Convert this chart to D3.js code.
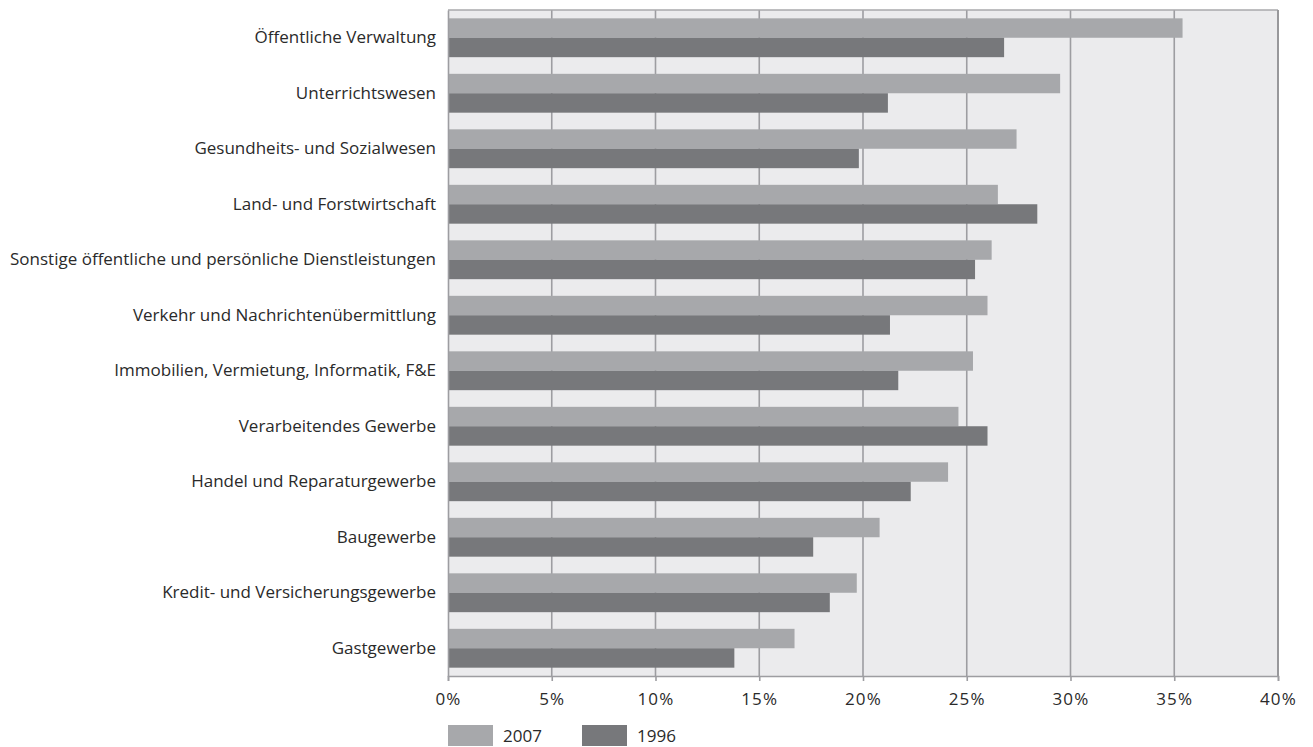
<!DOCTYPE html>
<html>
<head>
<meta charset="utf-8">
<script src="https://cdn.jsdelivr.net/npm/d3@7"></script>
<style>
  html, body { margin: 0; padding: 0; background: #fff; }
  svg { display: block; }
  text { font-family: "Open Sans", Lato, sans-serif; fill: #2a2a2a; }
</style>
</head>
<body>
<svg id="chart" width="1313" height="747"></svg>
<script>
// Branchen (top to bottom)
const categories = [
  "Öffentliche Verwaltung",
  "Unterrichtswesen",
  "Gesundheits- und Sozialwesen",
  "Land- und Forstwirtschaft",
  "Sonstige öffentliche und persönliche Dienstleistungen",
  "Verkehr und Nachrichtenübermittlung",
  "Immobilien, Vermietung, Informatik, F&E",
  "Verarbeitendes Gewerbe",
  "Handel und Reparaturgewerbe",
  "Baugewerbe",
  "Kredit- und Versicherungsgewerbe",
  "Gastgewerbe"
];
// Anteile in Prozent
const values2007 = [35.4, 29.5, 27.4, 26.5, 26.2, 26.0, 25.3, 24.6, 24.1, 20.8, 19.7, 16.7];
const values1996 = [26.8, 21.2, 19.8, 28.4, 25.4, 21.3, 21.7, 26.0, 22.3, 17.6, 18.4, 13.8];
const seriesNames = ["2007", "1996"];
const xTicks = [0, 5, 10, 15, 20, 25, 30, 35, 40];

const colors = { "2007": "#a7a8ab", "1996": "#77787b" };
const fontFamily = "'Open Sans', Lato, sans-serif";
const fontSize = 17;

const svg = d3.select("#chart");
const plotLeft = 448, plotRight = 1278, plotTop = 10, plotBottom = 676;

const x = d3.scaleLinear().domain([0, 40]).range([plotLeft, plotRight]);
const y = d3.scaleBand().domain(categories).range([plotTop, plotBottom])
  .paddingInner(0.3).paddingOuter(0.15);
const ySub = d3.scaleBand().domain(seriesNames).range([0, y.bandwidth()]);

// plot background
svg.append("rect")
  .attr("x", plotLeft).attr("y", plotTop)
  .attr("width", plotRight - plotLeft).attr("height", plotBottom - plotTop)
  .attr("fill", "#ebebed");

// vertical grid lines
svg.append("g").selectAll("line")
  .data(xTicks.slice(1, -1))
  .join("line")
  .attr("x1", d => x(d)).attr("x2", d => x(d))
  .attr("y1", plotTop).attr("y2", plotBottom)
  .attr("stroke", "#9d9da1").attr("stroke-width", 1.6);

// bars
const rows = categories.map((c, i) => ({ cat: c, "2007": values2007[i], "1996": values1996[i] }));
const groups = svg.append("g").selectAll("g")
  .data(rows)
  .join("g")
  .attr("transform", d => `translate(0,${y(d.cat)})`);
groups.selectAll("rect")
  .data(d => seriesNames.map(s => ({ s, v: d[s] })))
  .join("rect")
  .attr("x", x(0))
  .attr("y", d => ySub(d.s))
  .attr("width", d => x(d.v) - x(0))
  .attr("height", ySub.bandwidth())
  .attr("fill", d => colors[d.s]);

// frame: top and right borders
svg.append("line")
  .attr("x1", plotLeft).attr("x2", plotRight).attr("y1", plotTop).attr("y2", plotTop)
  .attr("stroke", "#a8a8ab").attr("stroke-width", 1.6);
svg.append("line")
  .attr("x1", plotRight).attr("x2", plotRight).attr("y1", plotTop).attr("y2", plotBottom)
  .attr("stroke", "#98989b").attr("stroke-width", 2);

// x axis
const xAxis = svg.append("g")
  .attr("transform", `translate(0,${plotBottom})`)
  .call(d3.axisBottom(x).tickValues(xTicks).tickFormat(d => d + "%").tickSize(5).tickPadding(12));
xAxis.select(".domain").attr("stroke", "#9d9da1").attr("stroke-width", 1.6);
xAxis.selectAll(".tick line").attr("stroke", "#9d9da1").attr("stroke-width", 1.6);
xAxis.selectAll(".tick text")
  .attr("font-family", fontFamily)
  .attr("font-size", fontSize)
  .attr("letter-spacing", "1.2px")
  .attr("fill", "#2a2a2a");

// y axis
const yAxis = svg.append("g")
  .attr("transform", `translate(${plotLeft},0)`)
  .call(d3.axisLeft(y).tickSize(0).tickPadding(12));
yAxis.select(".domain").attr("stroke", "#9d9da1").attr("stroke-width", 1.6);
yAxis.selectAll(".tick text")
  .attr("font-family", fontFamily)
  .attr("font-size", fontSize).attr("fill", "#2a2a2a");

// legend
const legendX = [448, 582];
const legend = svg.append("g").selectAll("g")
  .data(seriesNames)
  .join("g")
  .attr("transform", (d, i) => `translate(${legendX[i]},725)`);
legend.append("rect")
  .attr("width", 45).attr("height", 21)
  .attr("fill", d => colors[d]);
legend.append("text")
  .attr("x", 55).attr("y", 17)
  .attr("font-family", fontFamily)
  .attr("font-size", fontSize)
  .text(d => d);
</script>
</body>
</html>
